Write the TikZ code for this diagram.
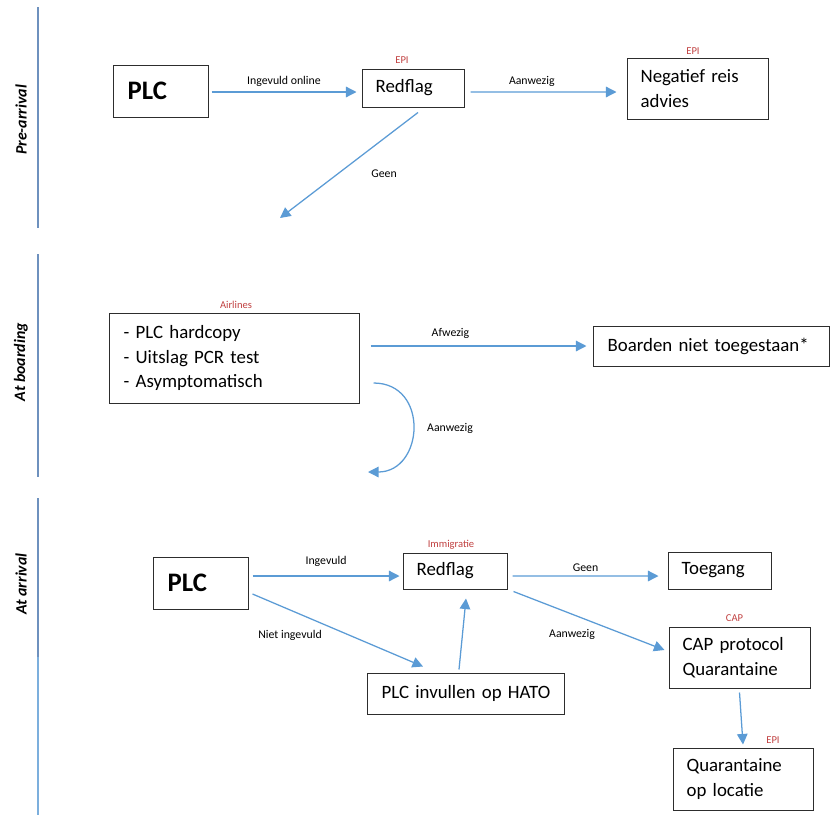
\documentclass[tikz,border=0pt]{standalone}
\usepackage{fontspec}
\setmainfont{Carlito}
\definecolor{flowblue}{RGB}{91,155,213}
\definecolor{lanegray}{RGB}{110,145,190}
\definecolor{ownerred}{RGB}{192,64,64}
\definecolor{boxdark}{RGB}{45,45,45}
\usepackage{tikz}
\usetikzlibrary{arrows.meta,positioning,calc}

\begin{document}
\begin{tikzpicture}[
  x=0.025cm, y=-0.025cm,
  box/.style={draw=boxdark, line width=0.7pt, align=left, inner xsep=0.34cm, inner ysep=0pt, font=\fontsize{13.4}{17.5}\selectfont},
  bigbox/.style={box, font=\fontsize{19}{20}\selectfont\bfseries},
  owner/.style={text=ownerred, font=\fontsize{7.5}{9}\selectfont, inner sep=1pt},
  lbl/.style={text=black, font=\fontsize{8.4}{9}\selectfont, inner sep=1pt},
  phase/.style={rotate=90, font=\fontsize{11.3}{13}\selectfont\bfseries\itshape},
  lane/.style={lanegray, line width=0.8pt},
  arr/.style={-{Triangle[length=7.5pt, width=7.5pt]}, flowblue, line width=0.9pt}
]
\useasboundingbox (0,0) rectangle (832,815);

% phase lanes on the left
\draw[lane] (38,7) -- (38,228);
\draw[lane] (38,254) -- (38,477);
\draw[lane] (38,498) -- (38,657);
\draw[lane, flowblue!80] (38,657) -- (38,815);
\node[phase] (pre) at (21,120) {Pre-arrival};
\node[phase] (board) at (21,362) {At boarding};
\node[phase] (arrive) at (21,584) {At arrival};

% pre-arrival
\node[bigbox, text width=1.67cm, minimum height=1.3cm] (plcA) at (161,91) {PLC};
\node[box, text width=1.87cm, minimum height=0.95cm] (flagA) at (413,88) {Redflag};
\node[box, text width=2.845cm, minimum height=1.525cm] (negA) at (697.5,88.5) {Negatief reis\\advies};
\node[owner] (epiA) at (402,60) {EPI};
\node[owner] (epiB) at (693,51) {EPI};

\draw[arr] ($(plcA.east)+(3,1)$) -- ($(flagA.west)+(-5,4)$) node[lbl, midway, above=2.5pt] {Ingevuld online};
\draw[arr] ($(flagA.east)+(6,4)$) -- ($(negA.west)+(-10,3.5)$) node[lbl, pos=0.42, above=2.5pt] {Aanwezig};
\coordinate (geenEnd) at (280,218);
\draw[arr] ($(flagA.south)+(5,5)$) -- (geenEnd);
\node[lbl] (geenA) at (384,174) {Geen};

% at boarding
\node[box, text width=5.545cm, minimum height=2.25cm] (checkB) at (234.5,358) {- PLC hardcopy\\- Uitslag PCR test\\- Asymptomatisch};
\node[box, text width=5.195cm, minimum height=1.0cm] (refuseB) at (711.5,346) {Boarden niet toegestaan*};
\node[owner] (airB) at (236,305) {Airlines};

\draw[arr] ($(checkB.east)+(11,-12)$) -- ($(refuseB.west)+(-7,0)$) node[lbl, pos=0.37, above=4pt] {Afwezig};
\coordinate (boardEnd) at (368,472);
\draw[arr] ($(checkB.east)+(14,25)$) .. controls +(56,0) and +(56,0) .. (boardEnd);
\node[lbl] (aanB) at (450,428) {Aanwezig};

% at arrival
\node[bigbox, text width=1.67cm, minimum height=1.3cm] (plcC) at (201,583) {PLC};
\node[box, text width=1.92cm, minimum height=0.9cm] (flagC) at (455,571) {Redflag};
\node[box, text width=4.22cm, minimum height=1.025cm] (hatoC) at (466,693.5) {PLC invullen op HATO};
\node[box, text width=1.895cm, minimum height=0.925cm] (entryC) at (719.5,570.5) {Toegang};
\node[box, text width=2.845cm, minimum height=1.525cm] (capC) at (739.5,657.5) {CAP protocol\\Quarantaine};
\node[box, text width=2.82cm, minimum height=1.55cm] (quarC) at (743,779) {Quarantaine\\op locatie};
\node[owner] (immC) at (451,544.5) {Immigratie};
\node[owner] (capO) at (734.5,618.5) {CAP};
\node[owner] (epiC) at (773,740) {EPI};

\draw[arr] ($(plcC.east)+(4,-7)$) -- ($(flagC.west)+(-3,5)$) node[lbl, midway, above=5.4pt] {Ingevuld};
\draw[arr] ($(plcC.east)+(4,11)$) -- ($(hatoC.north)+(-43,-6)$);
\node[lbl] (nietC) at (290,635) {Niet ingevuld};
\draw[arr] ($(hatoC.north)+(-7,-3)$) -- ($(flagC.south)+(11,9)$);
\draw[arr] ($(flagC.east)+(5,5)$) -- ($(entryC.west)+(-9,5.5)$) node[lbl, midway, above=2pt] {Geen};
\draw[arr] ($(flagC.south east)+(6,2)$) -- ($(capC.west)+(-4,-7.5)$);
\node[lbl] (aanC) at (572,634) {Aanwezig};
\draw[arr] ($(capC.south)+(0,4)$) -- ($(quarC.north)+(0,-3)$);
\end{tikzpicture}
\end{document}
